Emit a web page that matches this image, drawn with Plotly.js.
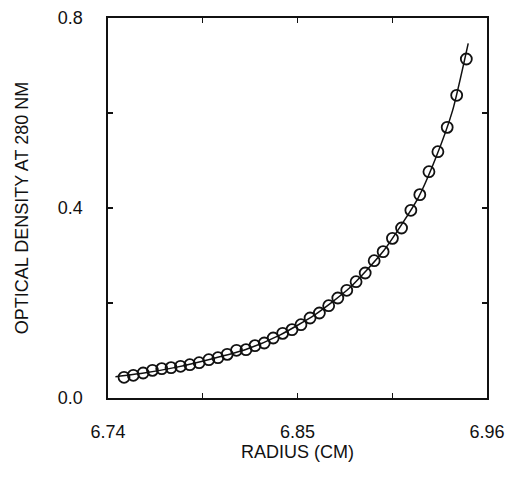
<!DOCTYPE html>
<html>
<head>
<meta charset="utf-8">
<script src="https://cdn.plot.ly/plotly-3.0.1.min.js"></script>
<style>html,body{margin:0;padding:0;background:#fff;}#chart{width:508px;height:480px;}</style>
</head>
<body>
<div id="chart"></div>
<script>
// Measured data (radius in cm, optical density at 280 nm)
var radius = [6.7493, 6.7547, 6.7604, 6.7658, 6.7712, 6.7766, 6.7821, 6.7875, 6.7929, 6.7985,
              6.8038, 6.8092, 6.8146, 6.8201, 6.8253, 6.8307, 6.8359, 6.8414, 6.8468, 6.8520,
              6.8573, 6.8627, 6.8681, 6.8734, 6.8786, 6.8840, 6.8893, 6.8945, 6.8997, 6.9051,
              6.9104, 6.9158, 6.9210, 6.9263, 6.9315, 6.9369, 6.9424, 6.9480];
var opticalDensity = [0.0435, 0.0477, 0.0526, 0.0582, 0.0618, 0.0639, 0.0667, 0.0702, 0.0744, 0.0807,
              0.0849, 0.0919, 0.1004, 0.1018, 0.1102, 0.1158, 0.1263, 0.1361, 0.1439, 0.1544,
              0.1684, 0.1789, 0.1944, 0.2105, 0.2267, 0.2449, 0.2632, 0.2891, 0.3081, 0.3361,
              0.3579, 0.3951, 0.4281, 0.4765, 0.5186, 0.5698, 0.6372, 0.7137];
// Fitted curve
var fitRadius = [6.7443, 6.7600, 6.7800, 6.8000, 6.8200, 6.8400, 6.8600, 6.8800, 6.9000, 6.9200, 6.9300, 6.9400, 6.9491];
var fitDensity = [0.0450, 0.0520, 0.0650, 0.0820, 0.1020, 0.1330, 0.1750, 0.2310, 0.3100, 0.4210, 0.5030, 0.6050, 0.7467];
// Axis ticks
var xTickVals = [6.74, 6.795, 6.85, 6.905, 6.96];
var xTickText = ['6.74', '', '6.85', '', '6.96'];
var yTickVals = [0.0, 0.2, 0.4, 0.6, 0.8];
var yTickText = ['0.0', '', '0.4', '', '0.8'];

var fontFam = '"Liberation Sans", Arial, Helvetica, sans-serif';

var traces = [
  {x: fitRadius, y: fitDensity, type: 'scatter', mode: 'lines',
   line: {color: '#111', width: 1.5, shape: 'spline', smoothing: 0.6}, hoverinfo: 'skip'},
  {x: radius, y: opticalDensity, type: 'scatter', mode: 'markers',
   marker: {symbol: 'circle-open', size: 11, color: '#111', line: {width: 1.8, color: '#111'}}}
];

var axisCommon = {
  showgrid: false, zeroline: false, showline: true, linecolor: '#111', linewidth: 1.6,
  mirror: 'ticks', ticks: 'inside', ticklen: 5, tickwidth: 1.4, tickcolor: '#111',
  tickmode: 'array', tickfont: {family: fontFam, size: 18, color: '#111'}
};

var layout = {
  width: 508, height: 480,
  margin: {l: 108, r: 21, t: 18, b: 82},
  paper_bgcolor: '#fff', plot_bgcolor: '#fff',
  showlegend: false,
  xaxis: Object.assign({}, axisCommon, {
    range: [6.74, 6.96], tickvals: xTickVals, ticktext: xTickText, ticklabelstandoff: 17,
    title: {text: 'RADIUS (CM)', font: {family: fontFam, size: 18, color: '#111'}, standoff: 0}
  }),
  yaxis: Object.assign({}, axisCommon, {
    range: [0, 0.8], tickvals: yTickVals, ticktext: yTickText, ticklabelstandoff: 20,
    title: {text: 'OPTICAL DENSITY AT 280 NM', font: {family: fontFam, size: 18, color: '#111'}, standoff: 24}
  })
};

Plotly.newPlot('chart', traces, layout, {staticPlot: true, displayModeBar: false});
</script>
</body>
</html>
